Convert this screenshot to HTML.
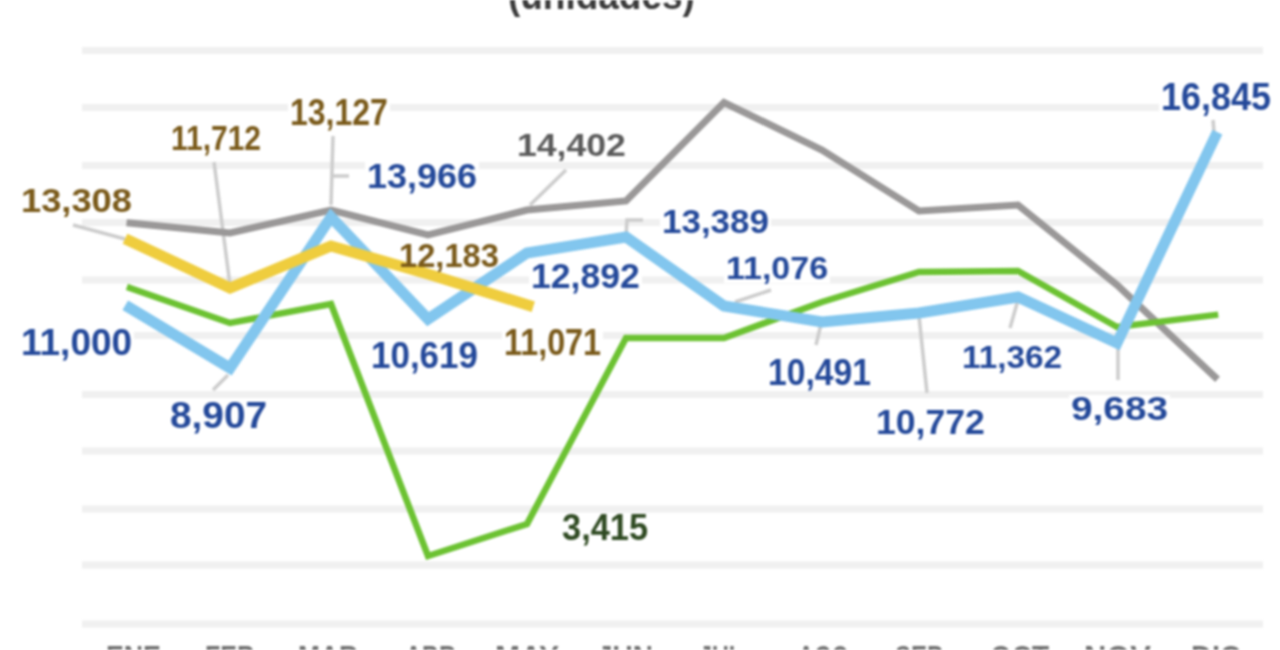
<!DOCTYPE html>
<html><head><meta charset="utf-8"><style>html,body{margin:0;padding:0;background:#fff;width:1280px;height:650px;overflow:hidden}</style></head>
<body><svg width="1280" height="650" viewBox="0 0 1280 650" style="display:block;filter:blur(1.1px)">
<g font-family="Liberation Sans, sans-serif" font-weight="bold">
<rect x="82" y="47.0" width="1181" height="7" fill="#f0f0f0"/>
<rect x="82" y="104.0" width="1181" height="7" fill="#f0f0f0"/>
<rect x="82" y="162.0" width="1181" height="7" fill="#f0f0f0"/>
<rect x="82" y="219.0" width="1181" height="7" fill="#f0f0f0"/>
<rect x="82" y="276.5" width="1181" height="7" fill="#f0f0f0"/>
<rect x="82" y="332.0" width="1181" height="7" fill="#f0f0f0"/>
<rect x="82" y="391.0" width="1181" height="7" fill="#f0f0f0"/>
<rect x="82" y="447.5" width="1181" height="7" fill="#f0f0f0"/>
<rect x="82" y="505.5" width="1181" height="7" fill="#f0f0f0"/>
<rect x="82" y="561.5" width="1181" height="7" fill="#f0f0f0"/>
<rect x="82" y="620.5" width="1181" height="7" fill="#f0f0f0"/>
<rect x="19" y="187" width="115" height="29" fill="#fff"/>
<rect x="169" y="124" width="94" height="30" fill="#fff"/>
<rect x="288" y="98" width="102" height="31" fill="#fff"/>
<rect x="365" y="162" width="114" height="30" fill="#fff"/>
<rect x="515" y="132" width="113" height="28" fill="#fff"/>
<rect x="397" y="242" width="104" height="29" fill="#fff"/>
<rect x="529" y="262" width="113" height="30" fill="#fff"/>
<rect x="660" y="208" width="111" height="29" fill="#fff"/>
<rect x="724" y="255" width="106" height="28" fill="#fff"/>
<rect x="19" y="328" width="115" height="31" fill="#fff"/>
<rect x="168" y="401" width="101" height="31" fill="#fff"/>
<rect x="369" y="340" width="111" height="32" fill="#fff"/>
<rect x="502" y="327" width="101" height="32" fill="#fff"/>
<rect x="766" y="358" width="107" height="31" fill="#fff"/>
<rect x="874" y="408" width="113" height="30" fill="#fff"/>
<rect x="960" y="344" width="104" height="28" fill="#fff"/>
<rect x="1069" y="395" width="101" height="29" fill="#fff"/>
<rect x="1159" y="81" width="114" height="33" fill="#fff"/>
<rect x="560" y="513" width="90" height="31" fill="#fff"/>
<polyline points="73,225 125,239" fill="none" stroke="#cccccc" stroke-width="3.5"/>
<polyline points="214,162 230,285" fill="none" stroke="#cccccc" stroke-width="3.5"/>
<polyline points="333,136 331,205" fill="none" stroke="#cccccc" stroke-width="3.5"/>
<polyline points="333,176 349,176" fill="none" stroke="#cccccc" stroke-width="3.5"/>
<polyline points="566,170 530,205" fill="none" stroke="#cccccc" stroke-width="3.5"/>
<polyline points="643,220 627,220 626,237" fill="none" stroke="#cccccc" stroke-width="3.5"/>
<polyline points="771,290 735,302" fill="none" stroke="#cccccc" stroke-width="3.5"/>
<polyline points="228,375 213,390" fill="none" stroke="#cccccc" stroke-width="3.5"/>
<polyline points="816,345 821,324" fill="none" stroke="#cccccc" stroke-width="3.5"/>
<polyline points="927,393 919,316" fill="none" stroke="#cccccc" stroke-width="3.5"/>
<polyline points="1010,328 1018,300" fill="none" stroke="#cccccc" stroke-width="3.5"/>
<polyline points="1118,380 1118,345" fill="none" stroke="#cccccc" stroke-width="3.5"/>
<polyline points="1213,120 1214,132" fill="none" stroke="#cccccc" stroke-width="3.5"/>
<polyline points="130,223 230,233 331,210 428,235 527,210 626,201 724,102.5 822,150 919,211 1018,205 1117,285 1215,377" fill="none" stroke="#9a9898" stroke-width="7" stroke-linejoin="miter" stroke-linecap="square"/>
<polyline points="130,288 230,323 331,304 428,556 527,524 626,338 724,338 822,302 919,272 1018,271 1117,327 1215,315" fill="none" stroke="#6cc232" stroke-width="6.5" stroke-linejoin="miter" stroke-linecap="square"/>
<polyline points="130,308 230,368 331,217 428,319 527,253 626,237 724,306 822,322 919,313 1018,297 1117,343 1215,137" fill="none" stroke="#82c6ee" stroke-width="11" stroke-linejoin="miter" stroke-linecap="square"/>
<polyline points="130,241 230,288 331,246 428,274 528,305" fill="none" stroke="#efcd3e" stroke-width="11" stroke-linejoin="miter" stroke-linecap="square"/>
<text transform="translate(21.0,212.0) scale(1.0805,1)" x="-0.00" y="0" font-size="33.57" fill="#7a5a1a">13,308</text>
<text transform="translate(171.0,150.0) scale(0.8592,1)" x="-0.00" y="0" font-size="34.91" fill="#7a5a1a">11,712</text>
<text transform="translate(290.0,125.0) scale(0.8833,1)" x="-0.00" y="0" font-size="36.26" fill="#7a5a1a">13,127</text>
<text transform="translate(367.0,188.0) scale(1.0296,1)" x="-0.00" y="0" font-size="34.91" fill="#24499a">13,966</text>
<text transform="translate(517.0,156.0) scale(1.1053,1)" x="-0.00" y="0" font-size="32.23" fill="#5a5a5a">14,402</text>
<text transform="translate(399.0,267.0) scale(0.9734,1)" x="-0.00" y="0" font-size="33.57" fill="#7a5a1a">12,183</text>
<text transform="translate(531.0,288.0) scale(1.0202,1)" x="-0.00" y="0" font-size="34.91" fill="#24499a">12,892</text>
<text transform="translate(662.0,233.0) scale(1.0416,1)" x="-0.00" y="0" font-size="33.57" fill="#24499a">13,389</text>
<text transform="translate(726.0,279.0) scale(1.0550,1)" x="-0.00" y="0" font-size="32.23" fill="#24499a">11,076</text>
<text transform="translate(21.0,355.0) scale(1.0205,1)" x="-0.00" y="0" font-size="36.26" fill="#24499a">11,000</text>
<text transform="translate(170.0,428.0) scale(1.0701,1)" x="-0.00" y="0" font-size="36.26" fill="#24499a">8,907</text>
<text transform="translate(371.0,368.0) scale(0.9300,1)" x="-0.00" y="0" font-size="37.60" fill="#24499a">10,619</text>
<text transform="translate(504.0,355.0) scale(0.8599,1)" x="-0.00" y="0" font-size="37.60" fill="#7a5a1a">11,071</text>
<text transform="translate(768.0,385.0) scale(0.9284,1)" x="-0.00" y="0" font-size="36.26" fill="#24499a">10,491</text>
<text transform="translate(876.0,434.0) scale(1.0202,1)" x="-0.00" y="0" font-size="34.91" fill="#24499a">10,772</text>
<text transform="translate(962.0,368.0) scale(1.0343,1)" x="-0.00" y="0" font-size="32.23" fill="#24499a">11,362</text>
<text transform="translate(1071.0,420.0) scale(1.1557,1)" x="-0.00" y="0" font-size="33.57" fill="#24499a">9,683</text>
<text transform="translate(1161.0,110.0) scale(0.9231,1)" x="-0.00" y="0" font-size="38.94" fill="#24499a">16,845</text>
<text transform="translate(562.0,540.0) scale(0.9488,1)" x="-0.00" y="0" font-size="36.26" fill="#2f4a22">3,415</text>
<text transform="translate(508.0,9.0) scale(0.9239,1)" x="-0.00" y="0" font-size="40.00" fill="#3a3a3a">(unidades)</text>
<text transform="translate(106.0,668.0) scale(0.8495,1)" x="-0.00" y="0" font-size="31.43" fill="#707070">ENE</text>
<text transform="translate(205.0,668.0) scale(0.7955,1)" x="-0.00" y="0" font-size="31.43" fill="#707070">FEB</text>
<text transform="translate(298.0,668.0) scale(0.8373,1)" x="-0.00" y="0" font-size="31.43" fill="#707070">MAR</text>
<text transform="translate(405.0,668.0) scale(0.7478,1)" x="-0.00" y="0" font-size="31.43" fill="#707070">ABR</text>
<text transform="translate(495.0,668.0) scale(0.9560,1)" x="-0.00" y="0" font-size="31.43" fill="#707070">MAY</text>
<text transform="translate(597.0,668.0) scale(0.8909,1)" x="-0.00" y="0" font-size="31.43" fill="#707070">JUN</text>
<text transform="translate(699.0,668.0) scale(0.7407,1)" x="-0.00" y="0" font-size="31.43" fill="#707070">JUL</text>
<text transform="translate(798.0,668.0) scale(0.7117,1)" x="-0.00" y="0" font-size="31.43" fill="#707070">AGO</text>
<text transform="translate(895.0,668.0) scale(0.7636,1)" x="-0.00" y="0" font-size="31.43" fill="#707070">SEP</text>
<text transform="translate(990.0,668.0) scale(0.8897,1)" x="-0.00" y="0" font-size="31.43" fill="#707070">OCT</text>
<text transform="translate(1084.0,668.0) scale(0.9824,1)" x="-0.00" y="0" font-size="31.43" fill="#707070">NOV</text>
<text transform="translate(1191.0,668.0) scale(0.9249,1)" x="-0.00" y="0" font-size="31.43" fill="#707070">DIC</text>
</g></svg></body></html>
